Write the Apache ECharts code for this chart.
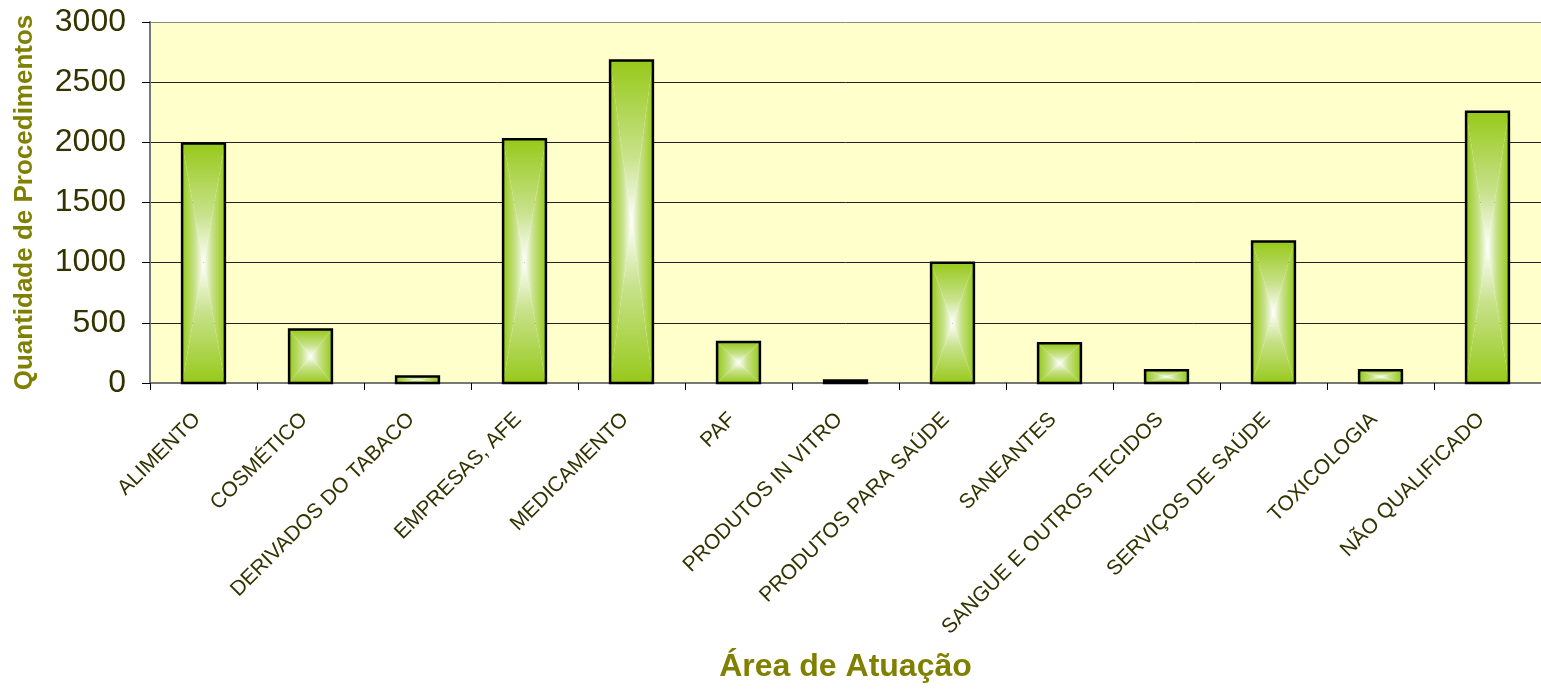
<!DOCTYPE html>
<html>
<head>
<meta charset="utf-8">
<script src="https://cdn.jsdelivr.net/npm/echarts@6/dist/echarts.min.js"></script>
<style>
  html, body { margin: 0; padding: 0; background: #fff; }
  #chart { width: 1541px; height: 691px; }
</style>
</head>
<body>
<div id="chart"></div>
<script>
var categories = ['ALIMENTO', 'COSMÉTICO', 'DERIVADOS DO TABACO', 'EMPRESAS, AFE', 'MEDICAMENTO', 'PAF',
    'PRODUTOS IN VITRO', 'PRODUTOS PARA SAÚDE', 'SANEANTES', 'SANGUE E OUTROS TECIDOS',
    'SERVIÇOS DE SAÚDE', 'TOXICOLOGIA', 'NÃO QUALIFICADO'];
var procedimentos = [1990, 445, 55, 2025, 2680, 340, 20, 1000, 330, 105, 1175, 105, 2255];
var yTicks = [0, 500, 1000, 1500, 2000, 2500, 3000];

var olive = '#808000';
var green = '#97c91a';

function grad(x, y, x2, y2, fromGreen) {
    var stops = [
        { offset: 0, color: green },
        { offset: 0.6, color: '#c8e28c' },
        { offset: 1, color: '#ffffff' }
    ];
    if (!fromGreen) {
        stops = stops.map(function (s) { return { offset: 1 - s.offset, color: s.color }; }).reverse();
    }
    return { type: 'linear', x: x, y: y, x2: x2, y2: y2, colorStops: stops };
}

// barra com gradiente "do centro" (4 triangulos) + contorno preto
function renderBar(params, api) {
    var top = api.coord([api.value(0), api.value(1)]);
    var base = api.coord([api.value(0), 0]);
    var w = api.size([1, 0])[0] * 0.4;
    var x0 = top[0] - w / 2, x1 = top[0] + w / 2;
    var y0 = top[1], y1 = base[1];
    var xc = top[0], yc = (y0 + y1) / 2;
    return {
        type: 'group',
        children: [
            { type: 'polygon', shape: { points: [[x0, y0], [xc, yc], [x0, y1]] }, style: { fill: grad(0, 0, 1, 0, true) } },
            { type: 'polygon', shape: { points: [[x1, y0], [xc, yc], [x1, y1]] }, style: { fill: grad(0, 0, 1, 0, false) } },
            { type: 'polygon', shape: { points: [[x0, y0], [x1, y0], [xc, yc]] }, style: { fill: grad(0, 0, 0, 1, true) } },
            { type: 'polygon', shape: { points: [[x0, y1], [x1, y1], [xc, yc]] }, style: { fill: grad(0, 0, 0, 1, false) } },
            { type: 'rect', shape: { x: x0, y: y0, width: w, height: y1 - y0 }, style: { fill: null, stroke: '#000', lineWidth: 2.5 } }
        ]
    };
}

var myChart = echarts.init(document.getElementById('chart'));
myChart.setOption({
    animation: false,
    textStyle: { fontFamily: 'Liberation Sans, Arial, sans-serif' },
    grid: {
        left: 150, right: 0, top: 22, bottom: 308,
        show: true, backgroundColor: '#ffffcc', borderWidth: 0
    },
    xAxis: {
        type: 'category',
        data: categories,
        name: 'Área de Atuação',
        nameLocation: 'middle',
        nameGap: 268,
        nameTextStyle: { color: olive, fontSize: 32, fontWeight: 'bold' },
        axisLine: { lineStyle: { color: '#777', width: 2 } },
        axisTick: { show: true, length: 7, lineStyle: { color: '#000' } },
        axisLabel: { rotate: 45, interval: 0, color: '#333300', fontSize: 21, margin: 27, padding: [0, 9, 0, 0] }
    },
    yAxis: {
        type: 'value',
        min: yTicks[0],
        max: yTicks[yTicks.length - 1],
        interval: 500,
        name: 'Quantidade de Procedimentos',
        nameLocation: 'middle',
        nameGap: 112,
        nameTextStyle: { color: olive, fontSize: 26, fontWeight: 'bold' },
        axisLine: { show: true, lineStyle: { color: '#777', width: 2 } },
        axisTick: { show: true, length: 8, lineStyle: { color: '#000' } },
        axisLabel: { color: '#333300', fontSize: 32, margin: 24, formatter: function (v) { return String(v); } },
        splitLine: { lineStyle: { color: ['#555', '#222', '#222', '#222', '#222', '#222', '#888'], width: 1 } }
    },
    series: [{
        type: 'custom',
        renderItem: renderBar,
        encode: { x: 0, y: 1 },
        data: procedimentos.map(function (v, i) { return [i, v]; })
    }]
});
</script>
</body>
</html>
